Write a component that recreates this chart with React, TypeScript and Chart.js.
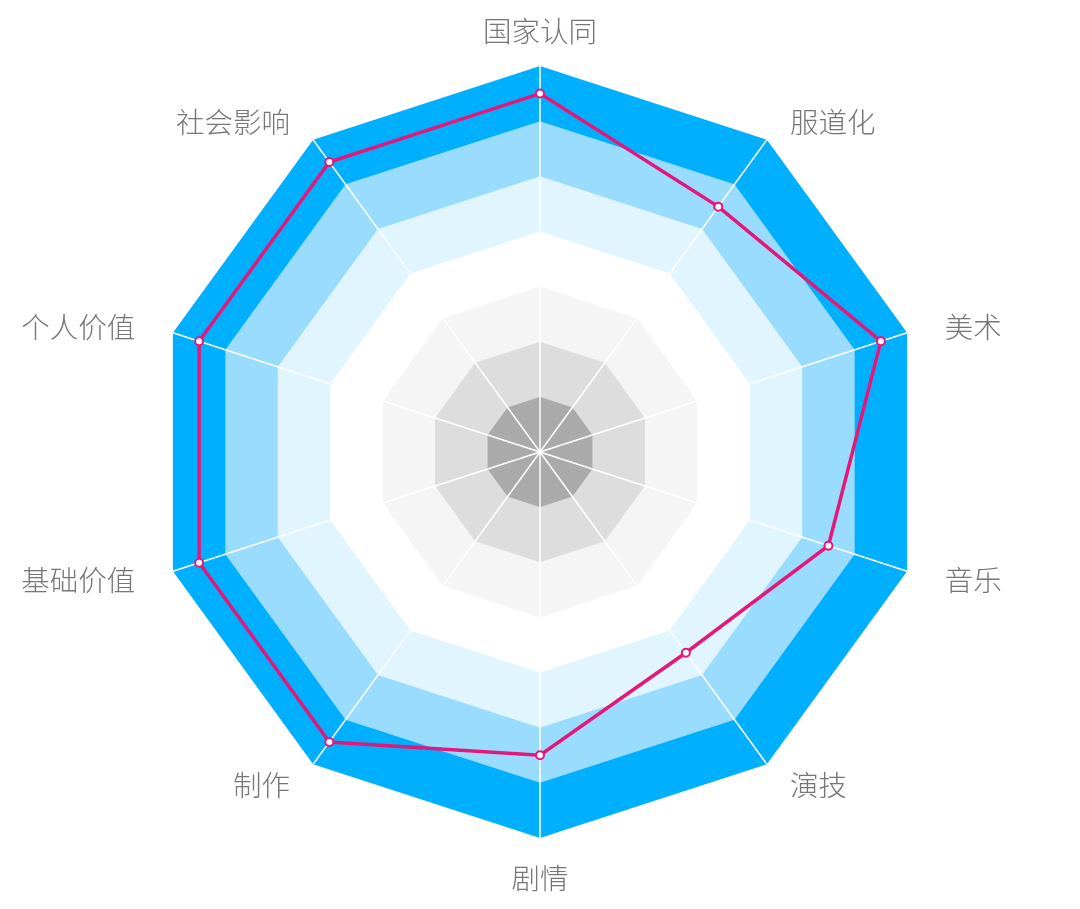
import React, { useEffect, useRef } from "react";
import { Chart, registerables } from "chart.js";
import type { Plugin } from "chart.js";

Chart.register(...registerables);

// axes, clockwise from the top
const AXES = ["国家认同", "服道化", "美术", "音乐", "演技", "剧情", "制作", "基础价值", "个人价值", "社会影响"];
const SCORES = [6.5, 5.5, 6.5, 5.5, 4.5, 5.5, 6.5, 6.5, 6.5, 6.5];
const SCALE_MAX = 7;
// bands from the outside in
const BAND_LEVELS = [7, 6, 5, 4, 3, 2, 1];
const BAND_COLORS = ["#00b0ff", "#99dcfd", "#e1f5fe", "#ffffff", "#f5f5f5", "#dddddd", "#aaaaaa"];

const LINE_COLOR = "#e6177a";
const LABEL_FONT = '300 28.5px "Noto Sans CJK SC", "Noto Sans", sans-serif';

const bandPlugin: Plugin<"radar"> = {
  id: "radarBands",
  beforeDraw(chart) {
    const scale: any = chart.scales.r;
    const ctx = chart.ctx;
    const n = AXES.length;
    ctx.save();
    BAND_LEVELS.forEach((level, k) => {
      const dist = scale.getDistanceFromCenterForValue(level);
      ctx.beginPath();
      for (let i = 0; i < n; i++) {
        const p = scale.getPointPosition(i, dist);
        if (i === 0) ctx.moveTo(p.x, p.y);
        else ctx.lineTo(p.x, p.y);
      }
      ctx.closePath();
      ctx.fillStyle = BAND_COLORS[k];
      ctx.fill();
    });
    ctx.restore();
  },
};

const labelPlugin: Plugin<"radar"> = {
  id: "radarLabels",
  afterDraw(chart) {
    const scale: any = chart.scales.r;
    const ctx = chart.ctx;
    const r = scale.drawingArea;
    ctx.save();
    ctx.font = LABEL_FONT;
    ctx.fillStyle = "#767676";
    ctx.textBaseline = "middle";
    AXES.forEach((label, i) => {
      const edge = scale.getPointPosition(i, r + 39.5);
      const dx = edge.x - scale.xCenter;
      if (Math.abs(dx) < 1) {
        const up = edge.y < scale.yCenter;
        const p = scale.getPointPosition(i, r + (up ? 36 : 39));
        ctx.textAlign = "center";
        ctx.fillText(label, p.x, p.y + 1.5);
        return;
      }
      const mid = scale.getPointPosition(i, r + 24);
      ctx.textAlign = dx > 0 ? "left" : "right";
      ctx.fillText(label, edge.x, mid.y + 1.5);
    });
    ctx.restore();
  },
};

const RadarChart: React.FC = () => {
  const canvasRef = useRef<HTMLCanvasElement | null>(null);

  useEffect(() => {
    const canvas = canvasRef.current;
    if (!canvas) return;

    const chart = new Chart(canvas, {
      type: "radar",
      data: {
        labels: AXES,
        datasets: [
          {
            label: "评分",
            data: SCORES,
            borderColor: LINE_COLOR,
            borderWidth: 3.5,
            fill: false,
            pointRadius: 4,
            pointBorderWidth: 2,
            pointBackgroundColor: "#ffffff",
            pointBorderColor: LINE_COLOR,
            tension: 0,
          },
        ],
      },
      options: {
        responsive: true,
        maintainAspectRatio: false,
        animation: false,
        layout: {
          padding: { top: 66, bottom: 71, left: 0, right: 0 },
        },
        plugins: {
          legend: { display: false },
          tooltip: { enabled: true },
        },
        scales: {
          r: {
            min: 0,
            max: SCALE_MAX,
            ticks: { display: false, stepSize: 1 },
            grid: { display: false },
            angleLines: { display: true, color: "#ffffff", lineWidth: 1.5 },
            pointLabels: { display: false },
          },
        },
      },
      plugins: [bandPlugin, labelPlugin],
    });

    return () => {
      chart.destroy();
    };
  }, []);

  return <canvas ref={canvasRef} />;
};

export default function App() {
  return (
    <div style={{ position: "absolute", left: 0, top: 0, width: 1080, height: 909, background: "#ffffff" }}>
      <RadarChart />
    </div>
  );
}
